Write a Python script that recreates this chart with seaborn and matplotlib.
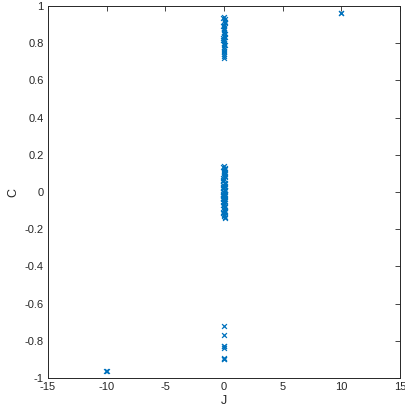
import numpy as np
import pandas as pd
import matplotlib
matplotlib.use("Agg")
import matplotlib.pyplot as plt
import seaborn as sns

# Upper cluster near J = 0
J_top = [0.00, 0.05, -0.04, 0.06, 0.02, -0.05, 0.04, 0.00, -0.03, 0.05, 0.01, -0.05,
         0.04, 0.00, -0.03, 0.05, 0.02, -0.04, 0.03, 0.00, -0.02, 0.03, 0.00,
         -0.05, 0.05, -0.04, 0.04, -0.03, 0.05, -0.05, 0.03]
C_top = [0.94, 0.93, 0.92, 0.91, 0.90, 0.89, 0.88, 0.87, 0.86, 0.85, 0.84, 0.83,
         0.82, 0.81, 0.80, 0.79, 0.78, 0.77, 0.76, 0.75, 0.74, 0.73, 0.72,
         0.935, 0.915, 0.895, 0.875, 0.855, 0.835, 0.815, 0.795]

# Central cluster near J = 0
J_mid = [0.02, 0.05, -0.03, 0.04, 0.00, -0.04, 0.05, 0.01, -0.05, 0.06, -0.06, 0.03,
         -0.08, 0.07, -0.02, 0.08, -0.07, 0.04, -0.09, 0.06, 0.00, -0.06, 0.08, -0.08,
         0.05, -0.05, 0.07, -0.07, 0.02, -0.03, 0.06, -0.06, 0.04, -0.02, 0.05, 0.00,
         -0.04, 0.03, 0.05, -0.03,
         -0.05, 0.06, -0.04, 0.05, -0.06, 0.07, -0.09, 0.08, -0.08, 0.06,
         -0.07, 0.05, -0.04, 0.06, -0.05, 0.04, 0.05, -0.04, 0.06, -0.05]
C_mid = [0.14, 0.13, 0.12, 0.11, 0.10, 0.09, 0.08, 0.07, 0.06, 0.05, 0.04, 0.03,
         0.02, 0.01, 0.00, -0.01, -0.02, -0.03, -0.04, -0.05, -0.06, -0.07, -0.08, -0.03,
         0.01, -0.01, 0.03, 0.00, -0.05, -0.09, -0.10, -0.11, -0.12, -0.13, -0.14, 0.02,
         -0.06, -0.04, -0.02, -0.08,
         0.135, 0.125, 0.105, 0.085, 0.065, 0.045, 0.025, 0.005, -0.015, -0.035,
         -0.055, -0.075, -0.095, -0.105, -0.115, -0.125, -0.135, 0.115, 0.095, 0.075]

# Lower cluster near J = 0
J_low = [0.00, 0.00, 0.02, -0.02, 0.02, -0.02, 0.01, -0.01]
C_low = [-0.72, -0.77, -0.83, -0.83, -0.84, -0.90, -0.89, -0.90]

# Isolated points
J_iso = [10.0, 9.95, -10.0, -10.05]
C_iso = [0.965, 0.96, -0.965, -0.96]

J = J_top + J_mid + J_low + J_iso
C = C_top + C_mid + C_low + C_iso
df = pd.DataFrame({"J": J, "C": C})

sns.set_style("white")
plt.rcParams["font.family"] = ["Liberation Sans", "DejaVu Sans"]
plt.rcParams["axes.unicode_minus"] = False

fig = plt.figure(figsize=(4.05, 4.11), dpi=100)
ax = fig.add_axes([48 / 405, 33 / 411, 352 / 405, 372 / 411])

sns.scatterplot(data=df, x="J", y="C", marker="x", color="#0072BD", s=12,
                linewidth=0.9, ax=ax, legend=False)

xt = [-15, -10, -5, 0, 5, 10, 15]
yt = [-1, -0.8, -0.6, -0.4, -0.2, 0, 0.2, 0.4, 0.6, 0.8, 1]
ax.set_xlim(-15, 15)
ax.set_ylim(-1, 1)
ax.set_xticks(xt)
ax.set_xticklabels([str(v) for v in xt])
ax.set_yticks(yt)
ax.set_yticklabels([f"{v:g}" for v in yt])
ax.tick_params(direction="in", length=3.5, width=0.6, labelsize=8, colors="#262626",
               top=True, right=True, pad=3)
for sp in ax.spines.values():
    sp.set_visible(True)
    sp.set_color("#262626")
    sp.set_linewidth(0.7)
ax.set_xlabel("J", fontsize=9, color="#262626", labelpad=2)
ax.set_ylabel("C", fontsize=9, color="#262626", labelpad=4)

fig.savefig("out.png", dpi=100)
